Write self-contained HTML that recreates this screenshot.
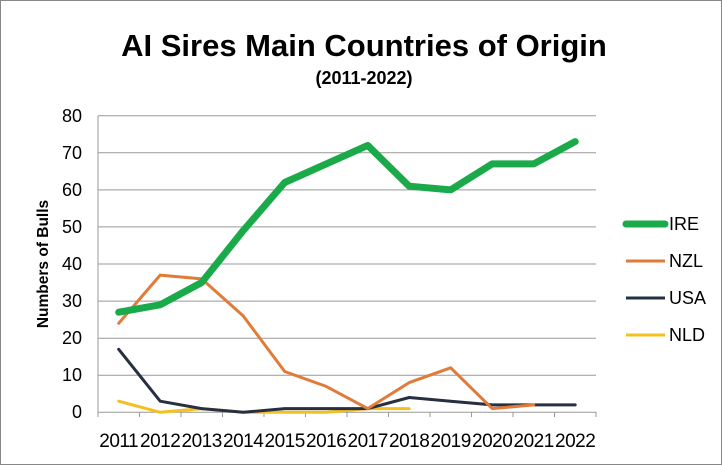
<!DOCTYPE html><html><head><style>body{margin:0;background:#fff}</style></head><body>
<svg width="722" height="465" xmlns="http://www.w3.org/2000/svg" font-family="Liberation Sans, sans-serif">
<rect x="0.5" y="0.5" width="721" height="464" fill="#fff" stroke="#888"/>
<text x="364" y="56" font-size="31" font-weight="bold" text-anchor="middle">AI Sires Main Countries of Origin</text>
<text x="364" y="84" font-size="18" font-weight="bold" text-anchor="middle">(2011-2022)</text>
<text transform="translate(48,264) rotate(-90)" font-size="15.5" font-weight="bold" text-anchor="middle">Numbers of Bulls</text>
<g stroke="#999" stroke-width="1">
<line x1="98" x2="596" y1="115.7" y2="115.7"/><line x1="98" x2="596" y1="152.8" y2="152.8"/><line x1="98" x2="596" y1="189.9" y2="189.9"/><line x1="98" x2="596" y1="226.9" y2="226.9"/><line x1="98" x2="596" y1="264" y2="264"/><line x1="98" x2="596" y1="301.1" y2="301.1"/><line x1="98" x2="596" y1="338.2" y2="338.2"/><line x1="98" x2="596" y1="375.2" y2="375.2"/><line x1="98" x2="596" y1="412.3" y2="412.3"/>
<line x1="98" x2="98" y1="115.7" y2="417"/>
<path d="M139.5 412v5M181 412v5M222.5 412v5M264 412v5M305.5 412v5M347 412v5M388.5 412v5M430 412v5M471.5 412v5M513 412v5M554.5 412v5M596 412v5"/>
</g>
<g font-size="18" text-anchor="end" fill="#000">
<text x="82" y="122">80</text><text x="82" y="159">70</text><text x="82" y="196">60</text><text x="82" y="233">50</text><text x="82" y="270">40</text><text x="82" y="307">30</text><text x="82" y="344">20</text><text x="82" y="381">10</text><text x="82" y="418">0</text>
</g>
<g font-size="19" text-anchor="middle" letter-spacing="-0.5">
<text x="118.7" y="447">2011</text><text x="160.2" y="447">2012</text><text x="201.7" y="447">2013</text><text x="243.2" y="447">2014</text><text x="284.7" y="447">2015</text><text x="326.2" y="447">2016</text><text x="367.7" y="447">2017</text><text x="409.2" y="447">2018</text><text x="450.7" y="447">2019</text><text x="492.2" y="447">2020</text><text x="533.7" y="447">2021</text><text x="575.2" y="447">2022</text>
</g>
<g fill="none" stroke-linejoin="round" stroke-linecap="round">
<polyline stroke="#F4C020" stroke-width="3" points="118.7,401.2 160.2,412.3 201.7,408.6 243.2,412.3 284.7,412.3 326.2,412.3 367.7,408.6 409.2,408.6"/>
<polyline stroke="#263040" stroke-width="3" points="118.7,349.3 160.2,401.2 201.7,408.6 243.2,412.3 284.7,408.6 326.2,408.6 367.7,408.6 409.2,397.5 450.7,401.2 492.2,404.9 533.7,404.9 575.2,404.9"/>
<polyline stroke="#E07B39" stroke-width="3" points="118.7,323.3 160.2,275.1 201.7,278.9 243.2,315.9 284.7,371.5 326.2,386.4 367.7,408.6 409.2,382.6 450.7,367.8 492.2,408.6 533.7,404.9"/>
<polyline stroke="#1AAA4A" stroke-width="7" points="118.7,312.2 160.2,304.8 201.7,282.5 243.2,230.6 284.7,182.5 326.2,163.9 367.7,145.4 409.2,186.2 450.7,189.9 492.2,163.9 533.7,163.9 575.2,141.6"/>
</g>
<line x1="626" x2="665" y1="224" y2="224" stroke="#1AAA4A" stroke-width="7" stroke-linecap="round"/>
<line x1="626" x2="665" y1="261" y2="261" stroke="#E07B39" stroke-width="3"/>
<line x1="626" x2="665" y1="298" y2="298" stroke="#263040" stroke-width="3"/>
<line x1="626" x2="665" y1="335" y2="335" stroke="#F4C020" stroke-width="3"/>
<g font-size="18"><text x="669" y="230">IRE</text><text x="669" y="267">NZL</text><text x="669" y="304">USA</text><text x="669" y="341">NLD</text></g>
</svg></body></html>
